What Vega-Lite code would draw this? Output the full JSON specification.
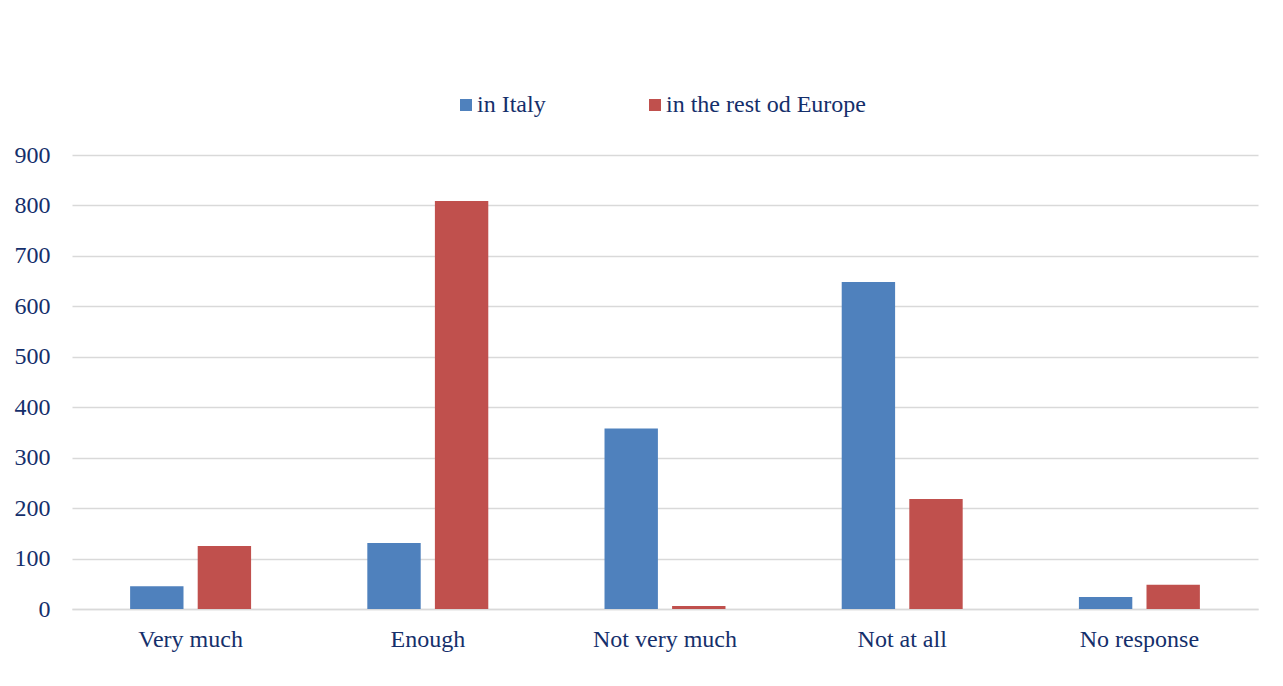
{
  "$schema": "https://vega.github.io/schema/vega-lite/v6.json",
  "autosize": {"type": "none"},
  "width": 1186,
  "height": 454,
  "padding": {"left": 72, "top": 155, "right": 25, "bottom": 77},
  "background": "white",
  "config": {"view": {"stroke": null}, "font": "Liberation Serif"},
  "data": {
    "values": [
      {"answer": "Very much", "group": "in Italy", "value": 45},
      {"answer": "Very much", "group": "in the rest od Europe", "value": 125},
      {"answer": "Enough", "group": "in Italy", "value": 131},
      {"answer": "Enough", "group": "in the rest od Europe", "value": 809},
      {"answer": "Not very much", "group": "in Italy", "value": 358},
      {"answer": "Not very much", "group": "in the rest od Europe", "value": 6},
      {"answer": "Not at all", "group": "in Italy", "value": 648},
      {"answer": "Not at all", "group": "in the rest od Europe", "value": 218},
      {"answer": "No response", "group": "in Italy", "value": 24},
      {"answer": "No response", "group": "in the rest od Europe", "value": 48}
    ]
  },
  "mark": {"type": "bar"},
  "encoding": {
    "x": {
      "field": "answer",
      "type": "nominal",
      "sort": ["Very much", "Enough", "Not very much", "Not at all", "No response"],
      "scale": {"paddingInner": 0.49, "paddingOuter": 0.245},
      "axis": {
        "title": null,
        "labelAngle": 0,
        "labelFontSize": 24,
        "labelFont": "Liberation Serif",
        "labelColor": "#152f6b",
        "labelPadding": 18,
        "ticks": false,
        "domainColor": "#d9d9d9",
        "domainWidth": 1.5
      }
    },
    "xOffset": {
      "field": "group",
      "type": "nominal",
      "sort": ["in Italy", "in the rest od Europe"],
      "scale": {"paddingInner": 0.21}
    },
    "y": {
      "field": "value",
      "type": "quantitative",
      "scale": {"domain": [0, 900]},
      "axis": {
        "title": null,
        "values": [0, 100, 200, 300, 400, 500, 600, 700, 800, 900],
        "grid": true,
        "gridColor": "#d9d9d9",
        "gridWidth": 1.5,
        "domain": false,
        "ticks": false,
        "labelFontSize": 24,
        "labelFont": "Liberation Serif",
        "labelColor": "#152f6b",
        "labelPadding": 22
      }
    },
    "color": {
      "field": "group",
      "type": "nominal",
      "scale": {"domain": ["in Italy", "in the rest od Europe"], "range": ["#4f81bd", "#c0504d"]},
      "legend": {
        "orient": "none",
        "legendX": 382,
        "legendY": -62,
        "direction": "horizontal",
        "title": null,
        "symbolType": "square",
        "symbolSize": 144,
        "symbolStrokeWidth": 0,
        "labelFontSize": 24,
        "labelFont": "Liberation Serif",
        "labelColor": "#152f6b",
        "labelOffset": -1,
        "labelLimit": 500,
        "columnPadding": 97
      }
    }
  }
}
